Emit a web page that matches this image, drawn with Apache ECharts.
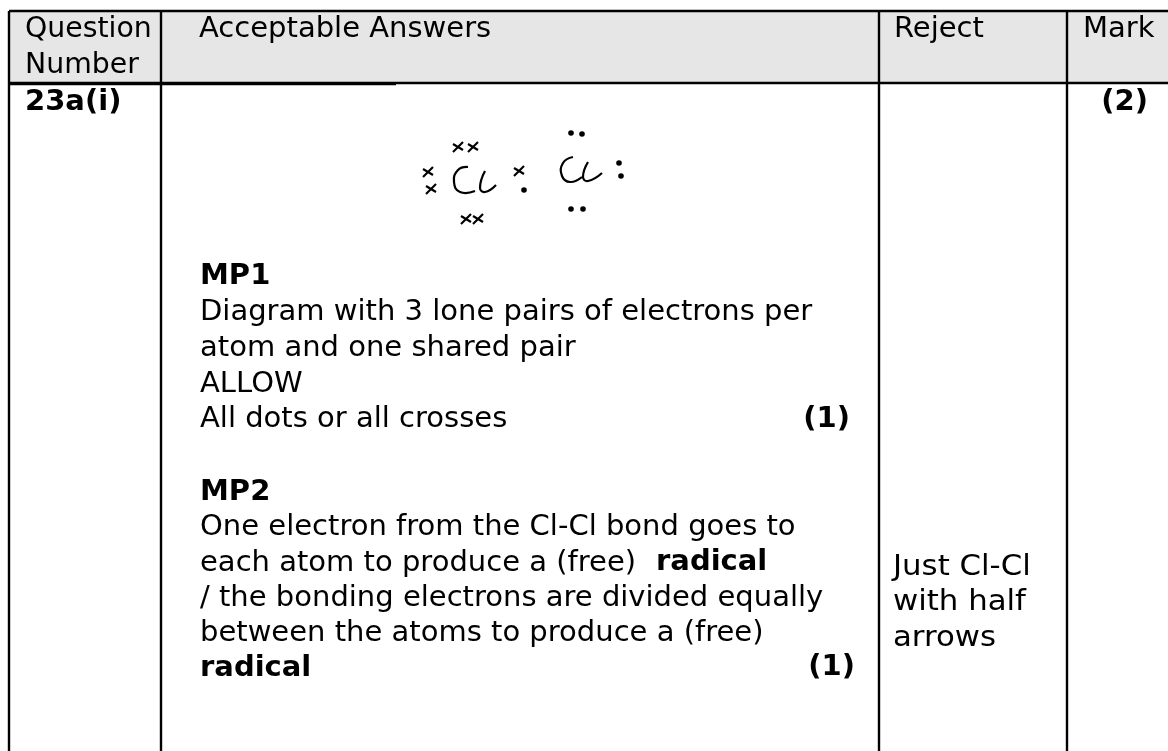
<!DOCTYPE html>
<html>
<head>
<meta charset="utf-8">
<style>html,body{margin:0;padding:0;background:#fff}#main{width:1168px;height:751px}</style>
<script src="https://cdn.jsdelivr.net/npm/echarts@6/dist/echarts.min.js"></script>
</head>
<body>
<div id="main"></div>
<script>
// table text
const headers = [['Question', 'Number'], ['Acceptable Answers'], ['Reject'], ['Mark']];
const questionNo = '23a(i)';
const markTotal = '(2)';
// answer lines: [text, bold]
const mp1Lines = [
    ['MP1', true],
    ['Diagram with 3 lone pairs of electrons per', false],
    ['atom and one shared pair', false],
    ['ALLOW', false],
    ['All dots or all crosses', false]
];
const mp2Lines = [
    ['MP2', true],
    ['One electron from the Cl-Cl bond goes to', false],
    ['each atom to produce a (free)', false],
    ['/ the bonding electrons are divided equally', false],
    ['between the atoms to produce a (free)', false],
    ['radical', true]
];
const rejectLines = ['Just Cl-Cl', 'with half', 'arrows'];
const subMark = '(1)';

// layout
const colX = [9, 161, 879, 1067];
const tableTop = 11, headBottom = 83;
const lineH = 35.2;
const font = '"DejaVu Sans", Verdana, sans-serif';
const fontSize = 27.5;
const stretch = 1.055; // the original face is wider than DejaVu

let myChart = echarts.init(document.getElementById('main'));
window.addEventListener('resize', function () {
    myChart.resize();
});

let els = [];

function addText(x, y, str, bold, align, sx) {
    els.push({
        type: 'text',
        x: x, y: y + 1,
        scaleX: sx || stretch,
        style: {
            text: str, fill: '#000',
            font: (bold ? 'bold ' : '') + fontSize + 'px ' + font,
            textAlign: align || 'left', textVerticalAlign: 'middle'
        }
    });
}
function addLine(x1, y1, x2, y2, w) {
    els.push({ type: 'line', shape: { x1: x1, y1: y1, x2: x2, y2: y2 }, style: { stroke: '#000', lineWidth: w || 2 } });
}
function addCross(x, y) {
    addLine(x - 5, y + 5, x + 5, y - 5, 2.2);
    addLine(x - 5, y - 3, x + 5, y + 3, 2.2);
}
function addDot(x, y) {
    els.push({ type: 'circle', shape: { cx: x, cy: y, r: 2.8 }, style: { fill: '#000' } });
}
function addStroke(points) {
    els.push({
        type: 'polyline',
        shape: { points: points, smooth: 0.5 },
        style: { stroke: '#000', lineWidth: 2.2, fill: null }
    });
}

// header band, runs off the right edge
els.push({ type: 'rect', shape: { x: colX[0], y: tableTop, width: 1168 - colX[0], height: headBottom - tableTop }, style: { fill: '#e6e6e6' } });

// grid lines
addLine(colX[0], tableTop, 1168, tableTop, 2.4);
addLine(colX[0], headBottom, 1168, headBottom, 2.4);
addLine(colX[0], headBottom + 1, 396, headBottom + 1, 2.4);
colX.forEach(function (x) {
    addLine(x, tableTop, x, 751, 2.4);
});

// header text
const headX = [25, 199, 894, 1083];
headers.forEach(function (lines, i) {
    lines.forEach(function (t, j) {
        addText(headX[i], 29 + j * 36, t, false, 'left', i === 0 ? 1.03 : stretch);
    });
});
addText(25, 102, questionNo, true);
addText(1148, 102, markTotal, true, 'right');

// answers
const ansX = 200;
mp1Lines.forEach(function (l, i) {
    addText(ansX, 276 + i * 35.8, l[0], l[1]);
});
addText(850, 419, subMark, true, 'right');
mp2Lines.forEach(function (l, i) {
    addText(ansX, 492 + i * lineH, l[0], l[1]);
});
addText(656, 562, 'radical', true);
addText(855, 667, subMark, true, 'right');
rejectLines.forEach(function (t, i) {
    addText(893, 567 + i * lineH, t, false, 'left', 1.12);
});

// handwritten dot-and-cross diagram
addStroke([[468, 167], [458, 170], [454, 182], [460, 192], [475, 191]]);
addStroke([[485, 171], [480, 188], [485, 192], [496, 185]]);
addStroke([[573, 157], [563, 163], [562, 176], [570, 182], [582, 177]]);
addStroke([[588, 162], [583, 177], [588, 181], [602, 173]]);
[[458, 147], [473, 147], [428, 172], [431, 189], [466, 219], [478, 219], [519, 171]].forEach(function (p) {
    addCross(p[0], p[1]);
});
[[524, 190], [571, 133], [582, 134], [619, 163], [621, 176], [571, 209], [583, 209]].forEach(function (p) {
    addDot(p[0], p[1]);
});

myChart.setOption({ animation: false, graphic: { elements: els } });
</script>
</body>
</html>
